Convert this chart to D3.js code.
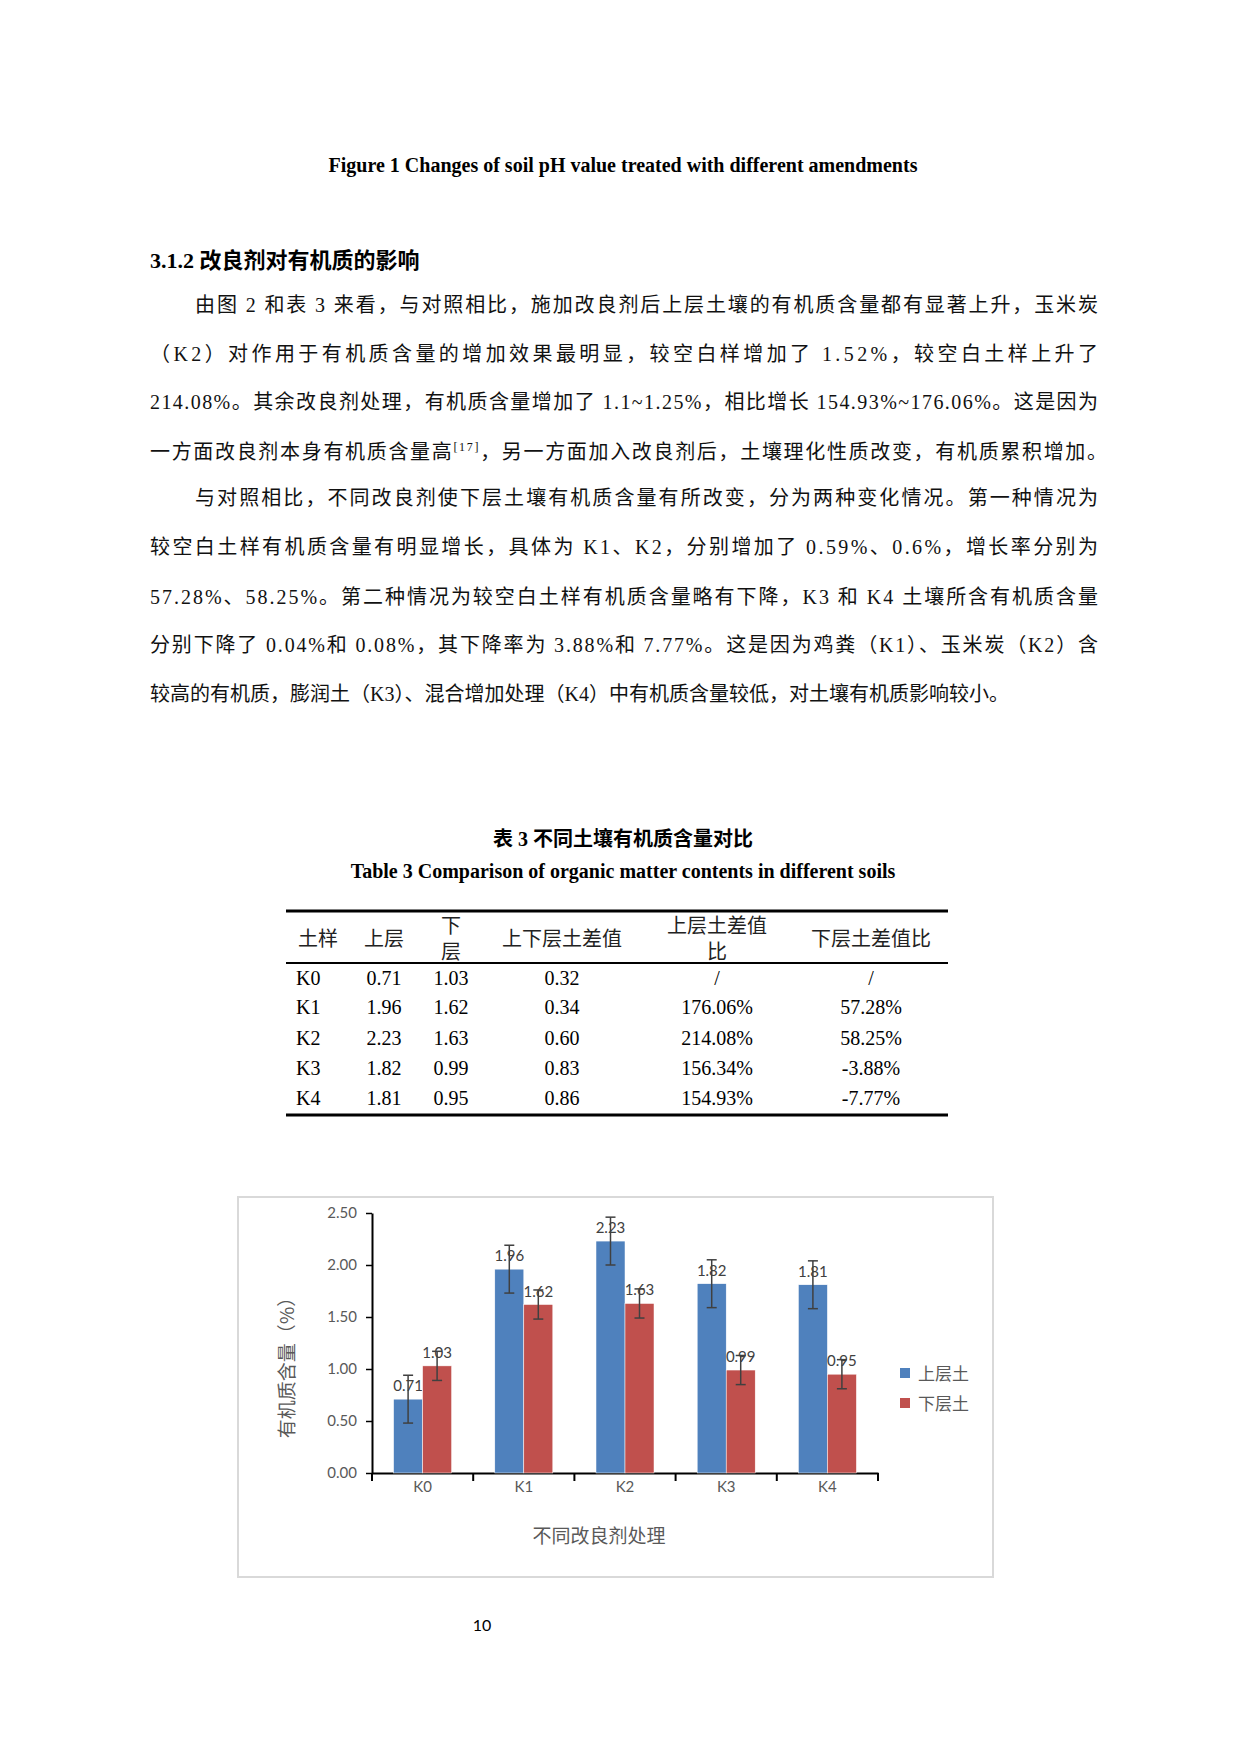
<!DOCTYPE html>
<html><head><meta charset="utf-8">
<script src="https://cdn.jsdelivr.net/npm/d3@7"></script>
<style>body{margin:0;background:#fff}</style></head>
<body><svg id="s" width="1240" height="1754"></svg>
<script>
const categories = ["K0","K1","K2","K3","K4"];
const seriesNames = ["上层土","下层土"];
const upper = [0.71,1.96,2.23,1.82,1.81];
const lower = [1.03,1.62,1.63,0.99,0.95];
const upperErr = [0.23,0.23,0.23,0.23,0.23];
const lowerErr = [0.14,0.14,0.14,0.14,0.14];
const yTicks = [0,0.5,1,1.5,2,2.5];
const tableHeader = ["土样","上层","下层","上下层土差值","上层土差值比","下层土差值比"];
const tableRows = [
 ["K0","0.71","1.03","0.32","/","/"],
 ["K1","1.96","1.62","0.34","176.06%","57.28%"],
 ["K2","2.23","1.63","0.60","214.08%","58.25%"],
 ["K3","1.82","0.99","0.83","156.34%","-3.88%"],
 ["K4","1.81","0.95","0.86","154.93%","-7.77%"]];
const paragraphs = [
 {x:195,y:305,t:"由图 2 和表 3 来看，与对照相比，施加改良剂后上层土壤的有机质含量都有显著上升，玉米炭",j:1},
 {x:150,y:354,t:"（K2）对作用于有机质含量的增加效果最明显，较空白样增加了 1.52%，较空白土样上升了",j:1},
 {x:150,y:402,t:"214.08%。其余改良剂处理，有机质含量增加了 1.1~1.25%，相比增长 154.93%~176.06%。这是因为",j:1},
 {x:150,y:452,t:"一方面改良剂本身有机质含量高",sup:"[17]",t2:"，另一方面加入改良剂后，土壤理化性质改变，有机质累积增加。",j:0},
 {x:195,y:498,t:"与对照相比，不同改良剂使下层土壤有机质含量有所改变，分为两种变化情况。第一种情况为",j:1},
 {x:150,y:547,t:"较空白土样有机质含量有明显增长，具体为 K1、K2，分别增加了 0.59%、0.6%，增长率分别为",j:1},
 {x:150,y:597,t:"57.28%、58.25%。第二种情况为较空白土样有机质含量略有下降，K3 和 K4 土壤所含有机质含量",j:1},
 {x:150,y:645,t:"分别下降了 0.04%和 0.08%，其下降率为 3.88%和 7.77%。这是因为鸡粪（K1）、玉米炭（K2）含",j:1},
 {x:150,y:694,t:"较高的有机质，膨润土（K3）、混合增加处理（K4）中有机质含量较低，对土壤有机质影响较小。",j:0}];

const svg = d3.select("#s");
const serif = "'Liberation Serif','Noto Sans CJK SC',serif";
const cjk = "'Noto Sans CJK SC',sans-serif";
const chartFont = "Lato,'Noto Sans CJK SC',sans-serif";

svg.append("text").attr("x",623).attr("y",172).attr("text-anchor","middle")
 .attr("font-family",serif).attr("font-weight","bold").attr("font-size",20)
 .text("Figure 1 Changes of soil pH value treated with different amendments");
svg.append("text").attr("x",150).attr("y",268).attr("font-family",serif).attr("font-weight","bold")
 .attr("font-size",22).text("3.1.2 改良剂对有机质的影响");
paragraphs.forEach(p=>{
  const t = svg.append("text").attr("x",p.x).attr("y",p.y+7).attr("font-family",serif).attr("font-size",20).attr("fill","#111");
  if(p.sup){
    t.append("tspan").text(p.t);
    t.append("tspan").attr("font-size",12).attr("dy",-8).text(p.sup);
    t.append("tspan").attr("dy",8).text(p.t2);
    t.attr("textLength",1107-p.x).attr("lengthAdjust","spacing");
  } else {
    t.text(p.t);
    if(p.j) t.attr("textLength",1098-p.x).attr("lengthAdjust","spacing");
  }
});

// table
svg.append("text").attr("x",623).attr("y",846).attr("text-anchor","middle").attr("font-family",serif)
 .attr("font-weight","bold").attr("font-size",20).text("表 3 不同土壤有机质含量对比");
svg.append("text").attr("x",623).attr("y",878).attr("text-anchor","middle").attr("font-family",serif)
 .attr("font-weight","bold").attr("font-size",20).text("Table 3 Comparison of organic matter contents in different soils");
[[911,3],[963,2],[1115,3]].forEach(([y,w])=>svg.append("line").attr("x1",286).attr("x2",948).attr("y1",y).attr("y2",y).attr("stroke","#000").attr("stroke-width",w));
const colX = [318,384,451,562,717,871];
tableHeader.forEach((h,i)=>{
  const g = svg.append("text").attr("text-anchor","middle").attr("font-family",cjk).attr("font-size",20).attr("fill","#222");
  if(i===2){ g.append("tspan").attr("x",colX[i]).attr("y",933).text("下"); g.append("tspan").attr("x",colX[i]).attr("y",959).text("层"); }
  else if(i===4){ g.append("tspan").attr("x",colX[i]).attr("y",933).text("上层土差值"); g.append("tspan").attr("x",colX[i]).attr("y",959).text("比"); }
  else g.attr("x",colX[i]).attr("y",946).text(h);
});
const rowY=[978,1007,1038,1068,1098];
tableRows.forEach((r,ri)=>r.forEach((c,ci)=>{
  svg.append("text").attr("x",ci===0?296:colX[ci]).attr("y",rowY[ri]+7).attr("text-anchor",ci===0?"start":"middle")
   .attr("font-family",serif).attr("font-size",20).text(c);
}));

// chart
svg.append("rect").attr("x",238).attr("y",1197).attr("width",755).attr("height",380).attr("fill","#fff").attr("stroke","#d9d9d9").attr("stroke-width",2);
const x = d3.scaleBand().domain(categories).range([372,878]);
const y = d3.scaleLinear().domain([0,2.5]).range([1473,1213]);
const bw = 29;
const ya = svg.append("g").attr("transform","translate(372,0)").call(d3.axisLeft(y).tickValues(yTicks).tickFormat(d3.format(".2f")).tickSize(6).tickSizeOuter(0));
ya.select(".domain").attr("stroke","#000").attr("stroke-width",2);
ya.selectAll(".tick line").attr("stroke","#000").attr("stroke-width",1.5);
ya.selectAll("text").attr("font-family",chartFont).attr("font-size",15).attr("fill","#595959").attr("dx",-6);
const xa = svg.append("g").attr("transform","translate(0,1473)").call(d3.axisBottom(x).tickSize(0).tickSizeOuter(0));
xa.select(".domain").attr("stroke","#000").attr("stroke-width",2);
xa.selectAll("text").attr("font-family",chartFont).attr("font-size",15).attr("fill","#595959").attr("dy",16);
// category separator ticks
svg.append("g").selectAll("line").data(categories.concat(["end"])).join("line")
 .attr("x1",(d,i)=>i<5?x(d):x.range()[1]).attr("x2",(d,i)=>i<5?x(d):x.range()[1])
 .attr("y1",1473).attr("y2",1481).attr("stroke","#000").attr("stroke-width",2);
const colors=["#4f81bd","#c0504d"];
[upper,lower].forEach((vals,si)=>{
  const errs = si===0?upperErr:lowerErr;
  const g = svg.append("g");
  categories.forEach((c,i)=>{
    const cx = x(c)+x.bandwidth()/2 + (si===0?-bw:0);
    g.append("rect").attr("x",cx).attr("y",y(vals[i])).attr("width",bw).attr("height",y(0)-y(vals[i])).attr("fill",colors[si]).attr("stroke","#fff").attr("stroke-width",0.5);
    const mx = cx+bw/2;
    g.append("line").attr("x1",mx).attr("x2",mx).attr("y1",y(vals[i]+errs[i])).attr("y2",y(vals[i]-errs[i])).attr("stroke","#404040").attr("stroke-width",1.5);
    [vals[i]+errs[i],vals[i]-errs[i]].forEach(v=>g.append("line").attr("x1",mx-5).attr("x2",mx+5).attr("y1",y(v)).attr("y2",y(v)).attr("stroke","#404040").attr("stroke-width",1.5));
    g.append("text").attr("x",mx).attr("y",y(vals[i])-8).attr("text-anchor","middle").attr("font-family",chartFont).attr("font-size",15).attr("fill","#404040").text(vals[i].toFixed(2));
  });
});
seriesNames.forEach((n,i)=>{
  svg.append("rect").attr("x",900).attr("y",1368+i*30).attr("width",10).attr("height",10).attr("fill",colors[i]);
  svg.append("text").attr("x",918).attr("y",1380+i*30).attr("font-family",cjk).attr("font-size",17).attr("fill","#595959").text(n);
});
svg.append("text").attr("x",599).attr("y",1543).attr("text-anchor","middle").attr("font-family",cjk).attr("font-size",19).attr("fill","#595959").text("不同改良剂处理");
svg.append("text").attr("transform","translate(294,1363) rotate(-90)").attr("text-anchor","middle").attr("font-family",cjk).attr("font-size",19).attr("fill","#595959").text("有机质含量（%）");
svg.append("text").attr("x",482).attr("y",1631).attr("text-anchor","middle").attr("font-family",chartFont).attr("font-size",16).text("10");
</script></body></html>
